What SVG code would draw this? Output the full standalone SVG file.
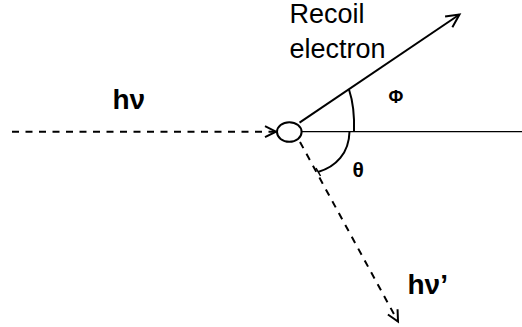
<svg xmlns="http://www.w3.org/2000/svg" width="522" height="327" viewBox="0 0 522 327">
<defs>
<marker id="ah" markerUnits="userSpaceOnUse" markerWidth="30" markerHeight="30" viewBox="-15 -15 30 30" refX="0" refY="0" orient="auto" overflow="visible">
<path d="M-11,-5.5 L0,0 L-11,5.5" fill="none" stroke="#000" stroke-width="2" stroke-linejoin="miter"/>
</marker>
<marker id="ahL" markerUnits="userSpaceOnUse" markerWidth="30" markerHeight="30" viewBox="-15 -15 30 30" refX="0" refY="0" orient="auto" overflow="visible">
<path d="M-13,-6.5 L0,0 L-13,6.5" fill="none" stroke="#000" stroke-width="2" stroke-linejoin="miter"/>
</marker>
<style>
.dash{stroke:#000;stroke-width:2;fill:none;stroke-dasharray:7 6.5}
.solid{stroke:#000;fill:none}
.lbl{font-family:"Liberation Sans",Arial,sans-serif;fill:#000}
.b{font-weight:bold}
</style>
</defs>
<rect width="522" height="327" fill="#fff"/>
<g id="connectors">
<line class="dash" x1="12" y1="131.7" x2="276" y2="131.7" marker-end="url(#ah)"/>
<line class="solid" x1="302" y1="131.7" x2="522" y2="131.7" stroke-width="1.3"/>
<line class="solid" x1="299.5" y1="122.7" x2="459.5" y2="14.5" stroke-width="2" marker-end="url(#ahL)"/>
<line class="dash" x1="300" y1="142" x2="398" y2="321.5" marker-end="url(#ah)"/>
<path class="solid" stroke-width="2" d="M349,89.5 C353.5,103 354.5,117 354,131.7"/>
<path class="solid" stroke-width="2" d="M349.5,131.7 C349,153 336,167 318,172"/>
<line class="solid" stroke-width="1.5" x1="316" y1="168" x2="320.5" y2="176"/>
</g>
<g id="target">
<ellipse cx="289.3" cy="132" rx="12.3" ry="9.8" fill="#fff" stroke="#000" stroke-width="2"/>
</g>
<g id="labels">
<text class="lbl" x="289.5" y="23.3" font-size="27">Recoil</text>
<text class="lbl" x="289.5" y="57.5" font-size="27">electron</text>
<text class="lbl b" x="112.5" y="109" font-size="28">hν</text>
<text class="lbl b" x="407.5" y="294" font-size="28">hν’</text>
<text class="lbl b" x="388.5" y="103.3" font-size="18">Φ</text>
<text class="lbl b" x="352.5" y="176.7" font-size="21">θ</text>
</g>
</svg>
